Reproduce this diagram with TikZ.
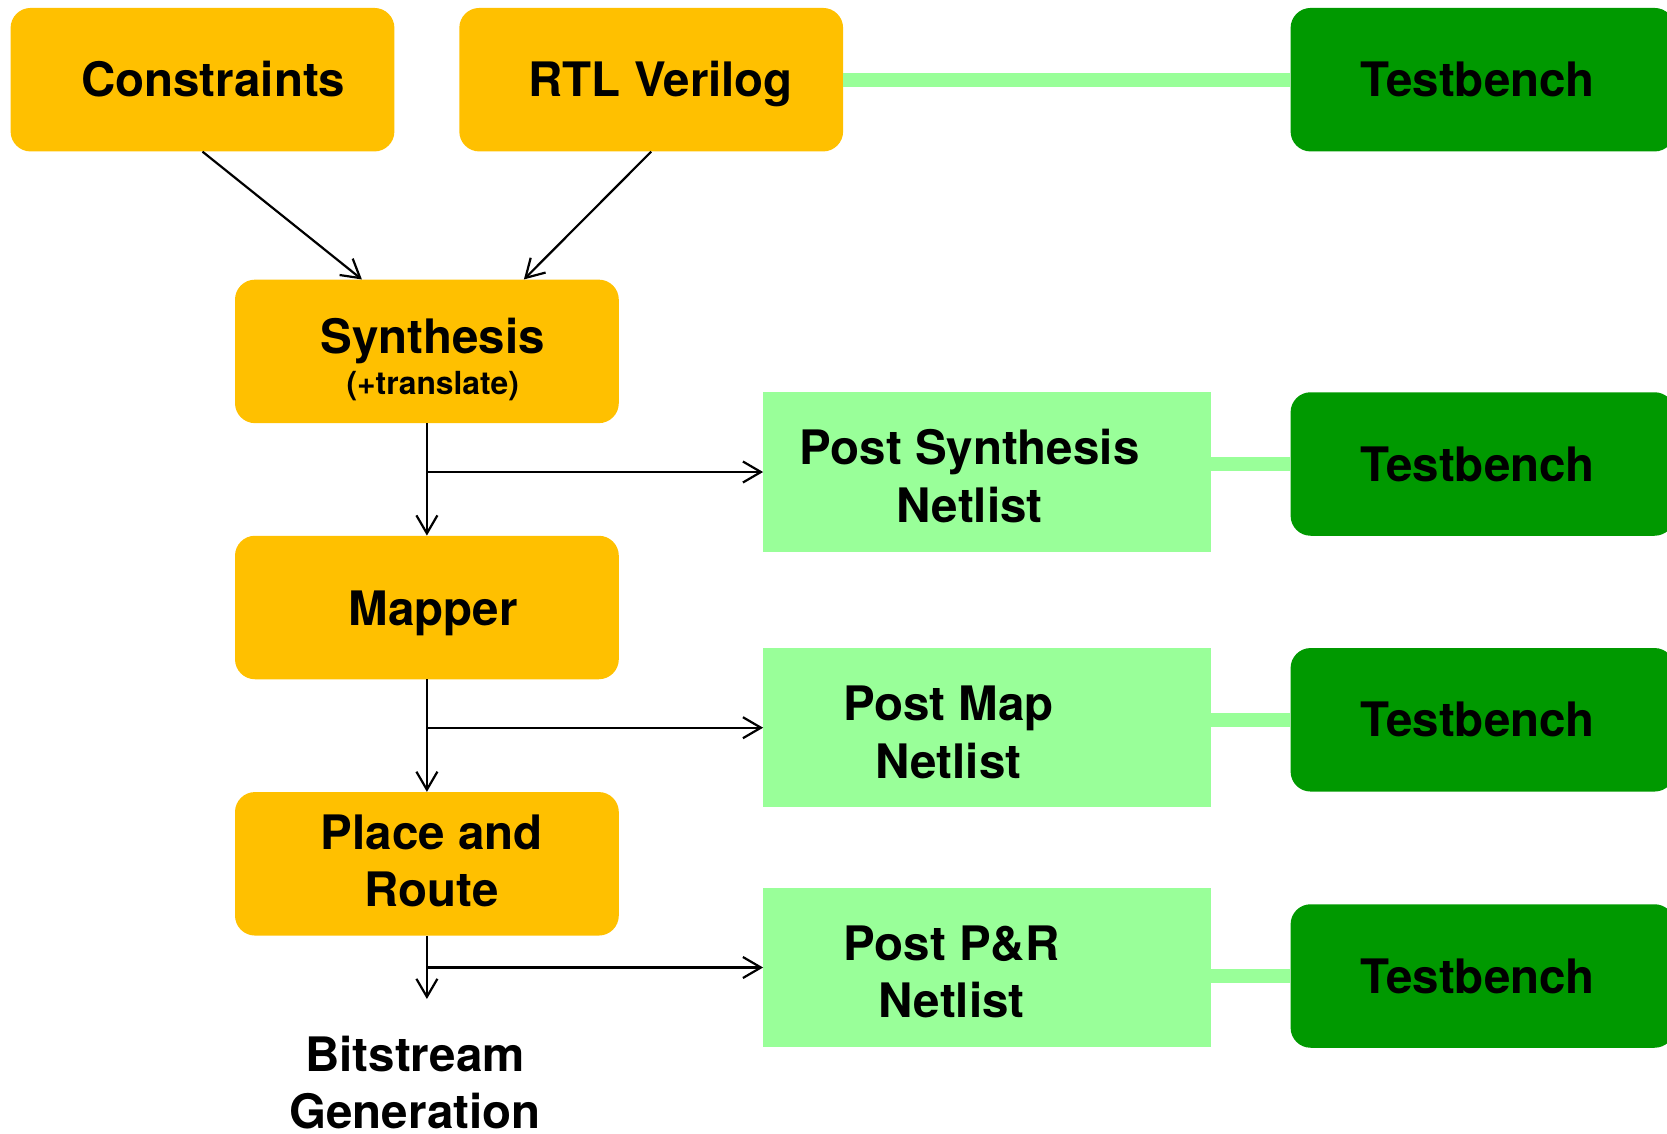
\documentclass[tikz,border=0pt]{standalone}
\usepackage{fontspec}
\setmainfont{TeX Gyre Heros}
\usetikzlibrary{arrows.meta}
\definecolor{flowgold}{HTML}{FFC000}
\definecolor{netgreen}{HTML}{99FF99}
\definecolor{tbgreen}{HTML}{009900}
\begin{document}
\begin{tikzpicture}[x=1pt,y=-1pt,
  stage/.style={fill=flowgold, rounded corners=20pt, minimum width=383.8pt, minimum height=143.5pt, inner sep=0pt},
  netlist/.style={fill=netgreen, minimum width=447.6pt, minimum height=159.5pt, inner sep=0pt},
  bench/.style={fill=tbgreen, rounded corners=20pt, minimum width=384pt, minimum height=143.5pt, inner sep=0pt},
  lbl/.style={anchor=base, inner sep=0pt, font=\fontsize{47.5pt}{57pt}\selectfont\bfseries},
  sublbl/.style={anchor=base, inner sep=0pt, font=\fontsize{31.8pt}{38pt}\selectfont\bfseries},
  flow/.style={line width=2.2pt, -{Straight Barb[length=18pt,width=21pt]}},
  link/.style={draw=netgreen, line width=14pt}
]
\useasboundingbox (0,0) rectangle (1667,1134);
\clip (0,0) rectangle (1667,1134);

% design flow stages
\node[stage] (cons)  at (202.5,79.7) {};
\node[stage] (rtl)   at (651.2,79.7) {};
\node[stage] (synth) at (426.9,351.4) {};
\node[stage] (map)   at (426.9,607.5) {};
\node[stage] (par)   at (426.9,863.8) {};

% netlists produced along the flow
\node[netlist] (psn) at (987.1,472) {};
\node[netlist] (pmn) at (987.1,727.7) {};
\node[netlist] (ppn) at (987.1,967.5) {};

% testbenches
\node[bench] (tb1) at (1482.6,79.7) {};
\node[bench] (tb2) at (1482.6,464) {};
\node[bench] (tb3) at (1482.6,719.8) {};
\node[bench] (tb4) at (1482.6,976) {};

% labels
\node[lbl] (cons-t)  at (213.2,96.8) {Constraints};
\node[lbl] (rtl-t)   at (660.7,96.8) {RTL Verilog};
\node[lbl] (synth-t) at (432.7,353) {Synthesis};
\node[sublbl] (synth-s) at (432.7,394) {(+translate)};
\node[lbl] (map-t)   at (433.2,625) {Mapper};
\node[lbl] (par-t1)  at (431.6,849.4) {Place and};
\node[lbl] (par-t2)  at (431.6,906.8) {Route};
\node[lbl] (psn-t1)  at (969.5,464.6) {Post Synthesis};
\node[lbl] (psn-t2)  at (969.5,522) {Netlist};
\node[lbl] (pmn-t1)  at (948.3,720.8) {Post Map};
\node[lbl] (pmn-t2)  at (948.3,778.2) {Netlist};
\node[lbl] (ppn-t1)  at (951.5,960) {Post P\&R};
\node[lbl] (ppn-t2)  at (951.5,1017.4) {Netlist};
\node[lbl] (tb1-t)   at (1477.7,96.8) {Testbench};
\node[lbl] (tb2-t)   at (1477.7,481) {Testbench};
\node[lbl] (tb3-t)   at (1477.7,736.8) {Testbench};
\node[lbl] (tb4-t)   at (1477.7,993) {Testbench};
\node[lbl] (bit-t1)  at (415,1071.5) {Bitstream};
\node[lbl] (bit-t2)  at (415,1128.5) {Generation};

% testbench links
\draw[link] (rtl.east) -- (tb1.west);
\draw[link] (psn.east |- tb2.west) -- (tb2.west);
\draw[link] (pmn.east |- tb3.west) -- (tb3.west);
\draw[link] (ppn.east |- tb4.west) -- (tb4.west);

% flow arrows
\draw[flow] (cons.south) -- ([xshift=-65pt]synth.north);
\draw[flow] (rtl.south) -- ([xshift=97pt]synth.north);
\draw[flow] (synth.south) -- (map.north);
\draw[flow] (map.south) -- (par.north);
\coordinate (bitin) at (426.9,999);
\draw[flow] (par.south) -- (bitin);
\draw[flow] (synth.south |- psn.west) -- (psn.west);
\draw[flow] (map.south |- pmn.west) -- (pmn.west);
\draw[flow] (par.south |- ppn.west) -- (ppn.west);
\end{tikzpicture}
\end{document}
